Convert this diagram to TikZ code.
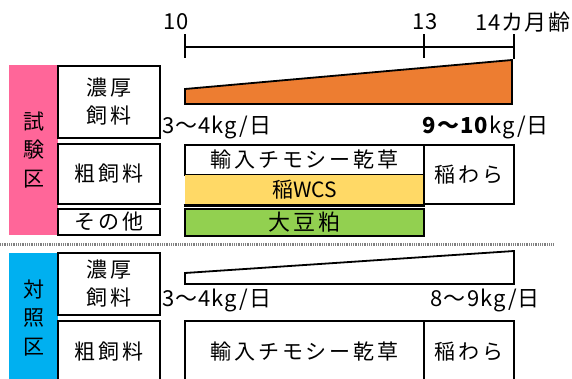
\documentclass[tikz,border=0pt]{standalone}
\usepackage{fontspec}
\setmainfont{Noto Sans CJK JP}
\newfontfamily\jp[LetterSpace=14]{Noto Sans CJK JP}
\newfontfamily\jpl[LetterSpace=5]{Noto Sans CJK JP}
\newfontfamily\jpn{Noto Sans CJK JP}
\definecolor{pinkbar}{HTML}{FF6699}
\definecolor{bluebar}{HTML}{00B0F0}
\definecolor{orangefill}{HTML}{ED7D31}
\definecolor{yellowfill}{HTML}{FFD966}
\definecolor{greenfill}{HTML}{92D050}
\begin{document}
\begin{tikzpicture}[x=1pt,y=-1pt,
  bx/.style={draw=black, line width=2.8pt, fill=white, inner sep=0pt, align=center, font=\jp\fontsize{21}{28}\selectfont},
  bar/.style={inner sep=0pt, align=center, font=\jp\fontsize{21}{28.5}\selectfont},
  lbl/.style={inner sep=0pt, font=\jpl\fontsize{22}{24}\selectfont},
  tick/.style={line width=2.2pt}]
\useasboundingbox (0,0) rectangle (572,379);
\begin{scope}
\clip (0,0) rectangle (572,379);
% timeline
\coordinate (t10) at (185,47);
\coordinate (t13) at (424,47);
\coordinate (t14) at (514,47);
\draw[tick] (t10) -- (t14);
\draw[tick] ([yshift=-11pt]t10) -- ([yshift=13pt]t10);
\draw[tick] ([yshift=-11pt]t13) -- ([yshift=13pt]t13);
\draw[tick] ([yshift=-12pt]t14) -- ([yshift=13pt]t14);
\node[lbl, anchor=east] (l10) at (189,22) {10};
\node[lbl] (l13) at (425,22) {13};
\node[lbl, anchor=west] (l14) at (475,22) {14カ月齢};

% test section
\node[bar, fill=pinkbar, minimum width=49, minimum height=170] (tbar) at (33.5,150) {試\\験\\区};
\node[bx, minimum width=102, minimum height=72] (c1) at (109,102) {濃厚\\飼料};
\node[bx, minimum width=102, minimum height=60] (r1) at (109,174) {粗飼料};
\node[bx, minimum width=102, minimum height=26] (o1) at (109,222) {その他};
\draw[line width=1.8pt, fill=orangefill] (185,104) -- (185,89) -- (512,60) -- (512,104) -- cycle;
\node[lbl, anchor=west] (k1) at (162,127) {3〜4kg/日};
\node[lbl, anchor=east] (k2) at (549,127) {\textbf{9〜10}kg/日};
\node[bx, minimum width=239, minimum height=30] (tim1) at (304.5,160) {輸入チモシー乾草};
\node[bx, draw=none, fill=yellowfill, minimum width=239, minimum height=29, font=\jpn\fontsize{21}{24}\selectfont] (wcs) at (304.5,189.5) {稲WCS};
\draw[line width=2.8pt] (wcs.south west) -- (wcs.south east);
\node[bx, minimum width=90, minimum height=59] (st1) at (469,174.5) {稲わら};
\node[bx, fill=greenfill, minimum width=239, minimum height=27, font=\jp\fontsize{22}{24}\selectfont] (soy) at (304.5,222.5) {大豆粕};

% separator
\coordinate (s1) at (0,244);
\coordinate (s2) at (553,244);
\draw[black!50, line width=3pt, dash pattern=on 1pt off 0.8pt] (s1) -- (s2);

% control section
\node[bar, fill=bluebar, minimum width=49, minimum height=130] (cbar) at (33.5,318) {対\\照\\区};
\node[bx, minimum width=102, minimum height=62] (c2) at (109,284) {濃厚\\飼料};
\node[bx, minimum width=102, minimum height=62] (r2) at (109,352) {粗飼料};
\draw[line width=1.8pt, fill=white] (185,284) -- (185,273) -- (514,251) -- (514,284) -- cycle;
\node[lbl, anchor=west] (k3) at (162,300) {3〜4kg/日};
\node[lbl, anchor=east] (k4) at (540,300) {8〜9kg/日};
\node[bx, minimum width=239, minimum height=62] (tim2) at (304.5,352) {輸入チモシー乾草};
\node[bx, minimum width=90, minimum height=62] (st2) at (469,352) {稲わら};
\end{scope}
\end{tikzpicture}
\end{document}
